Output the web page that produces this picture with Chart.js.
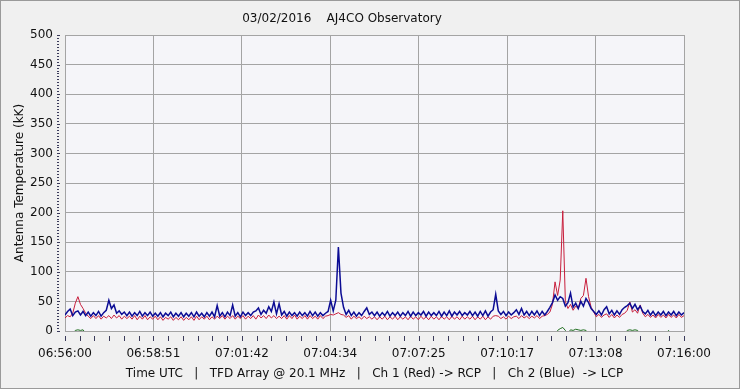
<!DOCTYPE html>
<html>
<head>
<meta charset="utf-8">
<script src="https://cdn.jsdelivr.net/npm/chart.js@4/dist/chart.umd.min.js"></script>
<style>
  html, body { margin: 0; padding: 0; background: #f0f0f0; }
  #wrap { width: 740px; height: 389px; }
</style>
</head>
<body>
<div id="wrap"><canvas id="chart" width="740" height="389"></canvas></div>
<script>
// one sample every 5 seconds, 06:56:00 -> 07:16:00 (one row = one minute)
const SAMPLE_SEC = 5;

const tickLabels = ["06:56:00", "06:58:51", "07:01:42", "07:04:34", "07:07:25", "07:10:17", "07:13:08", "07:16:00"];

// Ch 2 (Blue) -> LCP, kK
const ch2Blue = [
  27, 33, 37, 26, 32, 34, 27, 33, 26, 32, 25, 31,
  26, 33, 25, 31, 35, 52, 38, 44, 30, 34, 28, 32,
  26, 32, 25, 31, 26, 33, 25, 31, 26, 32, 25, 30,
  25, 31, 24, 30, 26, 32, 24, 30, 25, 31, 24, 30,
  25, 31, 24, 32, 25, 30, 24, 31, 25, 32, 24, 43,
  25, 31, 24, 32, 26, 44, 25, 31, 24, 32, 26, 31,
  26, 32, 34, 39, 28, 35, 30, 41, 33, 49, 29, 46,
  27, 33, 25, 32, 26, 31, 25, 32, 26, 31, 25, 33,
  26, 32, 25, 31, 26, 30, 33, 52, 34, 52, 142, 64,
  40, 28, 35, 26, 32, 25, 31, 26, 33, 39, 28, 32,
  26, 32, 25, 31, 26, 33, 25, 31, 26, 32, 25, 31,
  26, 33, 25, 32, 26, 31, 27, 33, 25, 32, 26, 31,
  26, 33, 25, 32, 26, 34, 25, 32, 27, 33, 26, 31,
  27, 33, 26, 32, 25, 33, 26, 34, 25, 32, 36, 62,
  34, 28, 33, 26, 32, 27, 31, 36, 28, 38, 27, 33,
  26, 33, 27, 34, 26, 33, 27, 33, 40, 48, 61, 52,
  58, 55, 42, 48, 64, 40, 47, 38, 50, 42, 55, 48,
  38, 33, 28, 34, 27, 36, 41, 29, 35, 27, 34, 28,
  36, 40, 43, 47, 38, 45, 36, 42, 33, 29, 35, 27,
  33, 26, 32, 27, 33, 26, 32, 27, 33, 26, 32, 27,
  31
];

// Ch 1 (Red) -> RCP, kK
const ch1Red = [
  22, 26, 24, 30, 47, 58, 45, 38, 30, 25, 21, 26,
  21, 26, 20, 25, 22, 26, 21, 27, 22, 26, 20, 25,
  21, 25, 20, 26, 19, 25, 20, 26, 19, 24, 20, 25,
  19, 24, 18, 23, 20, 24, 18, 23, 19, 24, 18, 23,
  19, 24, 18, 25, 19, 24, 20, 25, 19, 24, 20, 25,
  21, 26, 20, 25, 21, 26, 20, 25, 21, 26, 20, 25,
  21, 26, 20, 27, 22, 26, 21, 27, 22, 26, 21, 25,
  21, 26, 20, 26, 21, 27, 20, 25, 21, 26, 20, 26,
  21, 25, 20, 26, 21, 25, 26, 28, 27, 29, 31, 28,
  27, 23, 26, 20, 25, 21, 24, 20, 25, 21, 24, 20,
  24, 19, 24, 20, 25, 19, 24, 20, 25, 19, 24, 20,
  24, 19, 25, 20, 24, 19, 25, 20, 24, 19, 25, 20,
  24, 19, 25, 20, 24, 19, 25, 20, 24, 19, 25, 20,
  24, 20, 25, 19, 24, 20, 25, 19, 24, 20, 25, 26,
  25, 21, 24, 20, 25, 21, 24, 25, 21, 26, 22, 25,
  21, 25, 22, 26, 21, 25, 26, 28, 32, 45, 83, 60,
  86, 203, 50, 38, 45, 35, 42, 38, 55, 60, 89, 58,
  40, 32, 24, 28, 23, 27, 29, 23, 28, 22, 27, 23,
  28, 30, 35, 49, 32, 36, 30, 44, 30, 24, 28, 23,
  27, 22, 28, 23, 27, 22, 28, 23, 27, 22, 28, 23,
  26
];

// third channel, sits just under zero most of the time
const ch3Green = [
  -4, -4, -4, -4, 1, 2, 1, 2, -4, -4, -4, -4,
  -4, -4, -4, -4, -4, -4, -4, -4, -4, -4, -4, -4,
  -4, -4, -4, -4, -4, -4, -4, -4, -4, -4, -4, -4,
  -4, -4, -4, -4, -4, -4, -4, -4, -4, -4, -4, -4,
  -4, -4, -4, -4, -4, -4, -4, -4, -4, -4, -4, -4,
  -4, -4, -4, -4, -4, -4, -4, -4, -4, -4, -4, -4,
  -4, -4, -4, -4, -4, -4, -4, -4, -4, -4, -4, -4,
  -4, -4, -4, -4, -4, -4, -4, -4, -4, -4, -4, -4,
  -4, -4, -4, -4, -4, -4, -4, -4, -4, -4, -4, -4,
  -4, -4, -4, -4, -4, -4, -4, -4, -4, -4, -4, -4,
  -4, -4, -4, -4, -4, -4, -4, -4, -4, -4, -4, -4,
  -4, -4, -4, -4, -4, -4, -4, -4, -4, -4, -4, -4,
  -4, -4, -4, -4, -4, -4, -4, -4, -4, -4, -4, -4,
  -4, -4, -4, -4, -4, -4, -4, -4, -4, -4, -4, -4,
  -4, -4, -4, -4, -4, -4, -4, -4, -4, -4, -4, -4,
  -4, -4, -4, -4, -4, -4, -4, -4, -4, -4, -4, 1,
  4, 6, 1, -4, 2, 1, 3, 2, 1, 2, 1, -4,
  -4, -4, -4, -4, -4, -4, -4, -4, -4, -4, -4, -4,
  -4, -4, 1, 2, 1, 2, 1, -4, -4, -4, -4, -4,
  -4, -4, -4, -4, -4, -4, 1, -4, -4, -4, -4, -4,
  -4
];

const toPoints = (arr) => arr.map((v, i) => ({ x: i * SAMPLE_SEC, y: v }));

const TOTAL_SEC = (ch2Blue.length - 1) * SAMPLE_SEC;
const FONT = { family: "DejaVu Sans", size: 12 };

// background, plot fill and outer frame
const frame = {
  id: "frame",
  beforeDraw(chart) {
    const { ctx, chartArea: a } = chart;
    ctx.save();
    ctx.fillStyle = "#f0f0f0";
    ctx.fillRect(0, 0, chart.width, chart.height);
    ctx.fillStyle = "#f5f5f9";
    ctx.fillRect(a.left, a.top, a.right - a.left, a.bottom - a.top);
    ctx.strokeStyle = "#9a9a9a";
    ctx.lineWidth = 1;
    ctx.strokeRect(0.5, 0.5, chart.width - 1, chart.height - 1);
    ctx.restore();
  },
  // small detached tick marks like the original plotting tool
  afterDraw(chart) {
    const { ctx, chartArea: a } = chart;
    const xs = chart.scales.x, ys = chart.scales.y;
    ctx.save();
    ctx.strokeStyle = "#3a3a5a";
    ctx.lineWidth = 1;
    ctx.beginPath();
    for (let k = 0; k <= 42; k++) {
      const px = Math.round(xs.getPixelForValue(k * TOTAL_SEC / 42)) + 0.5;
      ctx.moveTo(px, a.bottom + 5);
      ctx.lineTo(px, a.bottom + 10);
    }
    for (let v = 0; v <= 500; v += 5) {
      const py = Math.round(ys.getPixelForValue(v)) + 0.5;
      const len = v % 50 === 0 ? 3 : 2;
      ctx.moveTo(a.left - 8, py);
      ctx.lineTo(a.left - 8 + len, py);
    }
    ctx.stroke();
    ctx.restore();
  }
};

new Chart(document.getElementById("chart"), {
  type: "line",
  data: {
    datasets: [
      { label: "Ch 3", data: toPoints(ch3Green), borderColor: "#1f6e1f", borderWidth: 1, pointRadius: 0 },
      { label: "Ch 2 (Blue)", data: toPoints(ch2Blue), borderColor: "#0c0c94", borderWidth: 1.5, pointRadius: 0 },
      { label: "Ch 1 (Red)", data: toPoints(ch1Red), borderColor: "#c81e3c", borderWidth: 1, pointRadius: 0 }
    ]
  },
  options: {
    responsive: false,
    animation: false,
    layout: { padding: { top: 0, right: 56, bottom: 0, left: 0 } },
    plugins: {
      legend: { display: false },
      tooltip: { enabled: false },
      title: {
        display: true,
        text: "03/02/2016    AJ4CO Observatory",
        color: "#111",
        font: { ...FONT, weight: "normal", lineHeight: 1.25 },
        padding: { top: 11, bottom: 9 }
      }
    },
    scales: {
      x: {
        type: "linear",
        min: 0,
        max: TOTAL_SEC,
        afterBuildTicks(scale) {
          scale.ticks = tickLabels.map((_, i) => ({ value: i * TOTAL_SEC / (tickLabels.length - 1) }));
        },
        afterFit(scale) { scale.height = 58; },
        grid: { color: "#a4a4a4", drawTicks: false },
        border: { color: "#a4a4a4" },
        ticks: {
          color: "#111",
          font: FONT,
          padding: 16,
          maxRotation: 0,
          autoSkip: false,
          callback: (v, i) => tickLabels[i]
        },
        title: {
          display: true,
          text: "Time UTC   |   TFD Array @ 20.1 MHz   |   Ch 1 (Red) -> RCP   |   Ch 2 (Blue)  -> LCP",
          color: "#111",
          font: FONT,
          padding: { top: 0, bottom: 8 }
        }
      },
      y: {
        min: 0,
        max: 500,
        afterFit(scale) { scale.width = 65; },
        grid: { color: "#a4a4a4", drawTicks: false },
        border: { color: "#a4a4a4" },
        ticks: { stepSize: 50, color: "#111", font: FONT, padding: 12 },
        title: {
          display: true,
          text: "Antenna Temperature (kK)",
          color: "#111",
          font: FONT,
          padding: { top: 13, bottom: 0 }
        }
      }
    }
  },
  plugins: [frame]
});
</script>
</body>
</html>
